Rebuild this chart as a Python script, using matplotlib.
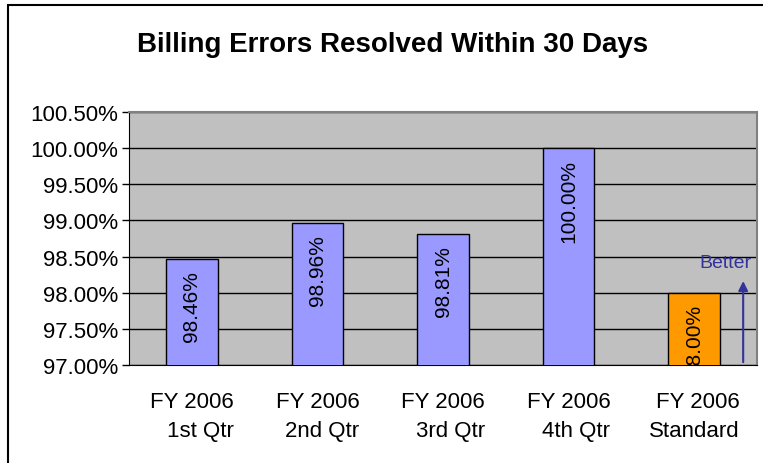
import numpy as np
import matplotlib
matplotlib.use('Agg')
import matplotlib.pyplot as plt
from matplotlib.patches import Rectangle

plt.rcParams['font.family'] = ['Liberation Sans', 'DejaVu Sans']

categories = ['FY 2006\n1st Qtr', 'FY 2006\n2nd Qtr', 'FY 2006\n3rd Qtr',
              'FY 2006\n4th Qtr', 'FY 2006\nStandard']
values = [98.46, 98.96, 98.81, 100.00, 98.00]
bar_colors = ['#9999FF', '#9999FF', '#9999FF', '#9999FF', '#FF9900']
yticks = [97.0, 97.5, 98.0, 98.5, 99.0, 99.5, 100.0, 100.5]

fig = plt.figure(figsize=(7.63, 4.64), dpi=100)
ax = fig.add_axes([129/763, 1-366/464, (757-129)/763, (366-113)/464])
ax.set_facecolor('#C0C0C0')

x = np.arange(len(categories))
bars = ax.bar(x, values, width=0.41, color=bar_colors, edgecolor='black',
              linewidth=1, zorder=3)

# value labels, written upward near the top of each bar
for xi, v in zip(x, values):
    ax.text(xi, v - 0.15, '%.2f%%' % v, rotation=90, ha='center', va='top',
            fontsize=15, zorder=4, clip_on=True)

ax.set_xlim(-0.5, len(categories) - 0.5)
ax.set_ylim(97.0, 100.5)
ax.set_yticks(yticks)
ax.set_yticklabels(['%.2f%%' % t for t in yticks], fontsize=16)
ax.set_xticks(x)
ax.set_xticklabels(categories, fontsize=16, multialignment='right', linespacing=1.45)
ax.tick_params(axis='x', length=0, pad=19)
ax.tick_params(axis='y', direction='out', length=5, width=1, pad=3)
ax.grid(axis='y', color='black', linewidth=1, zorder=1)

for s in ['top', 'right']:
    ax.spines[s].set_color('#808080')
    ax.spines[s].set_linewidth(1.5)
ax.spines['left'].set_color('black')
ax.spines['bottom'].set_color('black')

# "Better" arrow
ax.annotate('', xy=(4.39, 98.2), xytext=(4.39, 97.0),
            arrowprops=dict(arrowstyle='-|>', color='#333399', lw=1.5,
                            mutation_scale=14), zorder=5)
ax.text(4.46, 98.42, 'Better', color='#333399', fontsize=14,
        ha='right', va='center', zorder=5)

fig.text(393/763, 1-45/464, 'Billing Errors Resolved Within 30 Days',
         ha='center', va='center', fontsize=20, fontweight='bold')

fig.patches.append(Rectangle((8/763, -0.05), 1.0, 1-6/464+0.05,
                             transform=fig.transFigure, fill=False,
                             edgecolor='black', linewidth=1.5))

fig.savefig('out.png', dpi=100)
